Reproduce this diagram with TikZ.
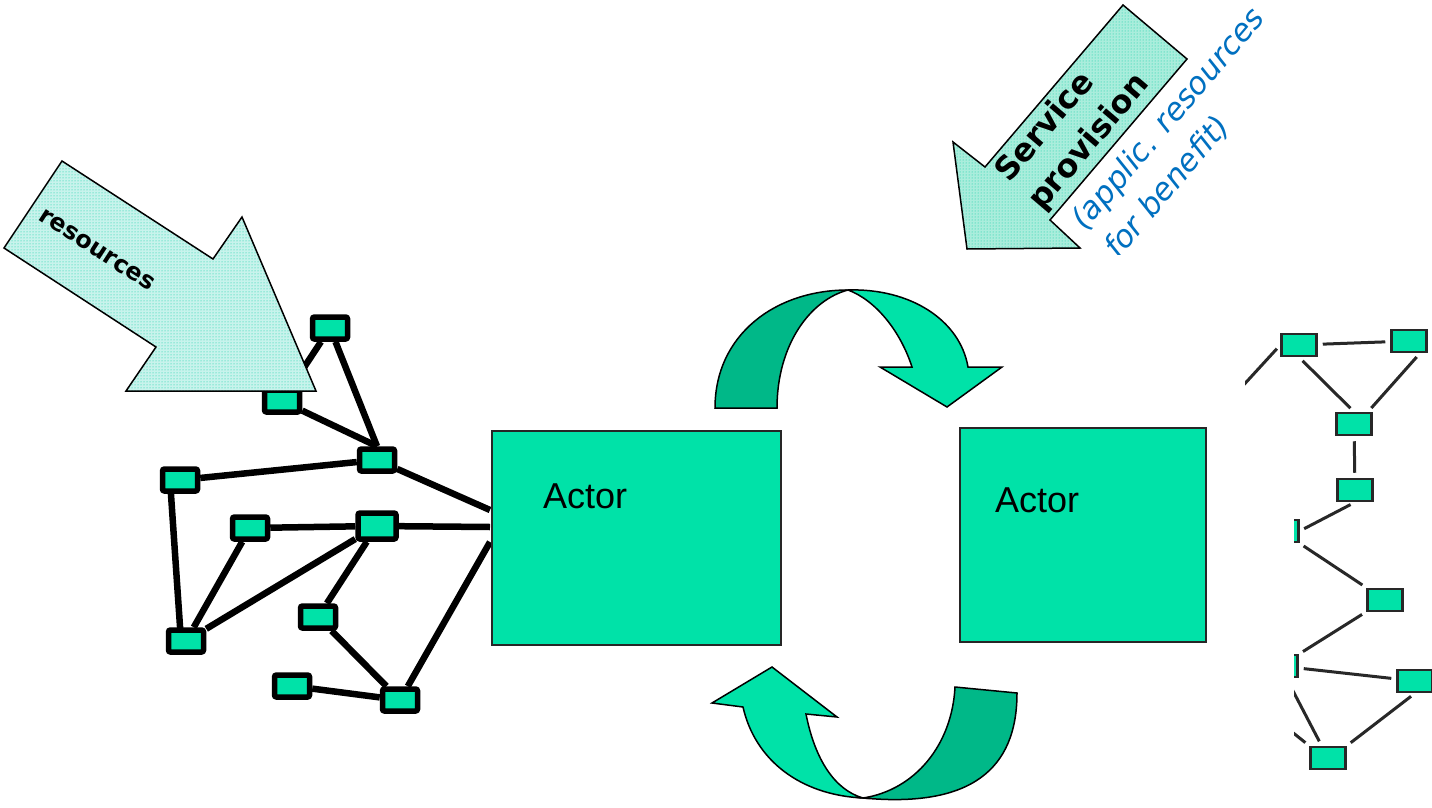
\documentclass[tikz,border=0pt]{standalone}
\usepackage{fontspec}
\newfontfamily\labelfont{DejaVu Sans}
\newfontfamily\actorfont{Liberation Sans}
\usetikzlibrary{patterns}
\definecolor{actorgreen}{RGB}{0,226,168}
\definecolor{bandgreen}{RGB}{0,184,136}
\definecolor{mintfill}{RGB}{170,237,220}
\definecolor{mintpale}{RGB}{200,243,236}
\definecolor{mintdot}{RGB}{0,205,160}
\definecolor{netgray}{RGB}{40,40,40}
\definecolor{noteblue}{RGB}{0,112,192}
\pgfdeclarelayer{paper}
\pgfdeclarelayer{wires}
\pgfsetlayers{paper,wires,main}
\begin{document}
\begin{tikzpicture}[x=1pt,y=-1pt,
  hub/.style={draw=black, line width=5.5pt, fill=actorgreen, rounded corners=2pt,
              minimum width=35pt, minimum height=22pt, inner sep=0pt},
  link/.style={line width=6.5pt, draw=black},
  pc/.style={draw=netgray, line width=2.5pt, fill=actorgreen,
             minimum width=35pt, minimum height=22pt, inner sep=0pt},
  wire/.style={line width=3pt, draw=netgray, shorten <=5pt, shorten >=5pt},
  actor/.style={draw=black!85, line width=2pt, fill=actorgreen, inner sep=0pt},
  actorlabel/.style={anchor=base west, inner sep=0pt,
                     font=\actorfont\fontsize{36}{40}\selectfont},
  ribbon/.style={draw=black, line width=1.5pt},
  bigarrow/.style={draw=black, line width=1.5pt, preaction={fill=#1},
                   pattern=dots, pattern color=mintdot},
  bigarrow/.default=mintfill,
  boldlabel/.style={inner sep=0pt, font=\labelfont\bfseries\fontsize{32}{38}\selectfont},
  notelabel/.style={anchor=base west, inner sep=0pt, rotate=49.6, text=noteblue,
                    font=\labelfont\itshape\fontsize{31}{36}\selectfont},
]
\useasboundingbox (0,0) rectangle (1432,808);
\begin{pgfonlayer}{paper}
  \fill[white] (0,0) rectangle (1432,808);
\end{pgfonlayer}

% ---------- left resource network ----------
\node[hub] (n1) at (330,328) {};
\node[hub] (n2) at (282,401) {};
\node[hub] (n3) at (377,460) {};
\node[hub] (n4) at (180,480) {};
\node[hub] (n5) at (250,528) {};
\node[hub, minimum width=38pt, minimum height=26pt] (n6) at (377,526) {};
\node[hub] (n7) at (318,617) {};
\node[hub] (n8) at (186,641) {};
\node[hub] (n9) at (292,686) {};
\node[hub] (n10) at (400,700) {};

\coordinate (a1) at (490,510);
\coordinate (a2) at (490,527);
\coordinate (a3) at (490,542);

\begin{pgfonlayer}{wires}
  \draw[link] (n1) -- (n2);
  \draw[link] (n1) -- (n3.north);
  \draw[link] (n2) -- (n3.north);
  \draw[link] (n3) -- (n4);
  \draw[link] (n3) -- (a1);
  \draw[link] ([xshift=-10pt]n4.center) -- ([xshift=-5pt]n8.center);
  \draw[link] (n5) -- (n6);
  \draw[link] (n5) -- (n8);
  \draw[link] (n6) -- (n8);
  \draw[link] (n6) -- (a2);
  \draw[link] (n6) -- (n7);
  \draw[link] (n7) -- (n10);
  \draw[link] (n9) -- (n10);
  \draw[link] (n10) -- (a3);
\end{pgfonlayer}

% ---------- incoming resources ----------
\path[bigarrow=mintpale] (62,161) -- (213,259) -- (242,217) -- (316,391)
  -- (126,391) -- (156,347) -- (4,248) -- cycle;
\node[boldlabel, font=\labelfont\bfseries\fontsize{24}{28}\selectfont, rotate=-33]
  (restext) at (97,250) {resources};

% ---------- the two actors ----------
\node[actor, minimum width=289pt, minimum height=214pt] (actL) at (636.5,538) {};
\node[actor, minimum width=246pt, minimum height=214pt] (actR) at (1083,535) {};
\node[actorlabel] (actLtext) at (543,508) {Actor};
\node[actorlabel] (actRtext) at (995,512) {Actor};

% ---------- exchange arrows ----------
\path[ribbon, fill=bandgreen] (715,408) .. controls (715,335) and (775,290) .. (848,290)
  .. controls (810,300) and (777,345) .. (777,408) -- cycle;
\path[ribbon, fill=actorgreen] (848,290) .. controls (910,288) and (960,320) .. (968,367)
  -- (1002,367) -- (947,407) -- (880,367) -- (912,367)
  .. controls (900,330) and (875,300) .. (848,290) -- cycle;

\path[ribbon, fill=actorgreen] (743,707) -- (712,703) -- (772,667) -- (837,717) -- (806,714)
  .. controls (815,760) and (835,790) .. (863,798)
  .. controls (800,795) and (755,760) .. (743,707) -- cycle;
\path[ribbon, fill=bandgreen] (955,687) -- (1017,693)
  .. controls (1017,770) and (970,808) .. (863,798)
  .. controls (915,790) and (952,745) .. (955,687) -- cycle;

% ---------- service provision ----------
\begin{scope}
  \clip (900,0) rectangle (1320,254);
  \path[bigarrow] (1123,5) -- (1187,59) -- (1050,220) -- (1080,248) -- (967,249)
    -- (953,142) -- (985,167) -- cycle;
  \node[boldlabel, anchor=base west, rotate=49.6] (svc1) at (1009,184) {Service};
  \node[boldlabel, anchor=base west, rotate=49.6] (svc2) at (1042,212) {provision};
  \node[notelabel] (note1) at (1085,232) {(applic. resources};
  \node[notelabel] (note2) at (1118,260) {for benefit)};
\end{scope}

% ---------- right network ----------
\begin{scope}
  \clip (1245,300) -- (1432,300) -- (1432,808) -- (1294,808) -- (1294,420)
    -- (1245,420) -- cycle;
  \node[pc] (r1) at (1299,345) {};
  \node[pc] (r2) at (1409,341) {};
  \node[pc] (r3) at (1354,424) {};
  \node[pc] (r4) at (1355,490) {};
  \node[pc] (r5) at (1281,531) {};
  \node[pc] (r6) at (1385,600) {};
  \node[pc] (r7) at (1280,666) {};
  \node[pc] (r8) at (1415,681) {};
  \node[pc] (r9) at (1328,758) {};
  \coordinate (h1) at (1228,402);
  \coordinate (h2) at (1262,708);
  \draw[wire] (r1) -- (r2);
  \draw[wire] (r1.south) -- (r3.north);
  \draw[wire] ([xshift=11pt]r2.south) -- ([xshift=14pt]r3.north);
  \draw[wire] (r3) -- (r4);
  \draw[wire] (r4.south) -- (r5.east);
  \draw[wire] (r5) -- (r6);
  \draw[wire] (r6) -- (r7);
  \draw[wire] (r7) -- (r8);
  \draw[wire] (r8.south) -- (r9.north east);
  \draw[wire] (r7) -- (r9);
  \draw[wire] (h2) -- (r9.north west);
  \draw[wire] (r1.west) -- (h1);
\end{scope}
\end{tikzpicture}
\end{document}
